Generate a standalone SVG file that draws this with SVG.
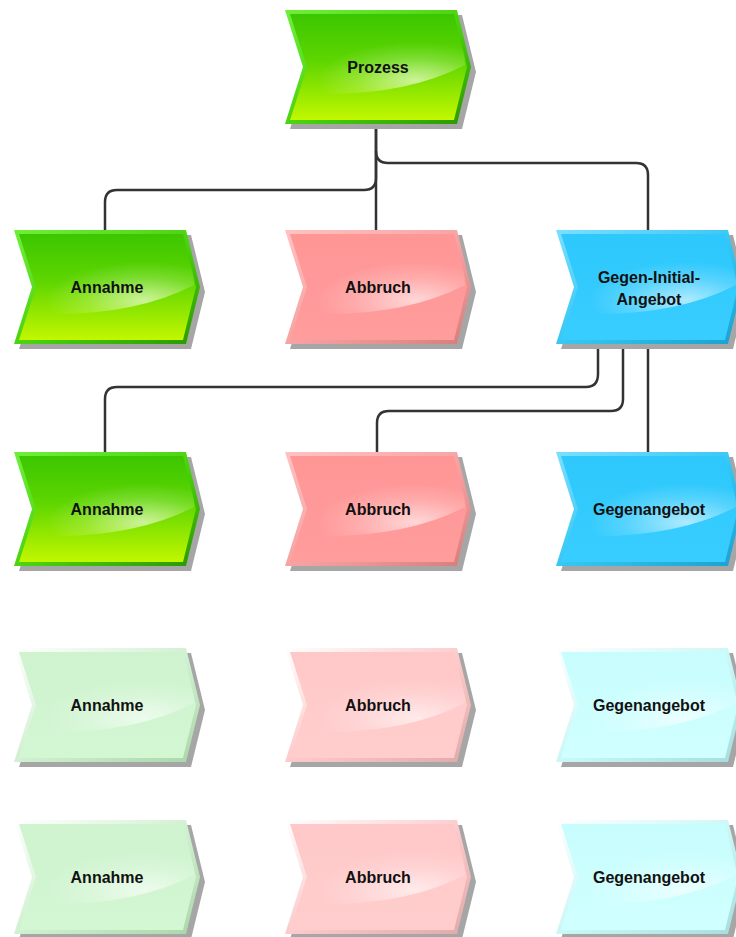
<svg xmlns="http://www.w3.org/2000/svg" xmlns:xlink="http://www.w3.org/1999/xlink" width="736" height="937" viewBox="0 0 736 937">
  <style>
    .shadow { fill: #a6a6a6; }
    .label { font-family: "Liberation Sans", Arial, sans-serif; font-weight: bold; font-size: 16px; fill: #111; text-anchor: middle; }
    .conn { fill: none; stroke: #333; stroke-width: 2.5; }
  </style>
  <defs>
    <!-- event/process chevron, 186 x 114 -->
    <path id="evt-outer" d="M0,0 H172 L186,57 L172,114 H0 L18,57 Z"/>
    <path id="evt-inner" d="M5,4 H169 L182,57 L169,110 H5 L22,57 Z"/>
    <clipPath id="gloss-clip">
      <path d="M20,20 H178 L180,55 Q120,86 30,84 Z"/>
    </clipPath>
    <radialGradient id="gloss-grad" cx="0.68" cy="0.72" r="0.55">
      <stop offset="0" stop-color="#fff" stop-opacity="0.6"/>
      <stop offset="0.6" stop-color="#fff" stop-opacity="0.18"/>
      <stop offset="1" stop-color="#fff" stop-opacity="0"/>
    </radialGradient>
    <g id="evt-gloss" clip-path="url(#gloss-clip)">
      <rect x="10" y="20" width="176" height="70" fill="url(#gloss-grad)"/>
    </g>

    <!-- rims: light top-left, dark bottom-right -->
    <linearGradient id="rim-green" x1="0" y1="0" x2="1" y2="1">
      <stop offset="0" stop-color="#6ef03a"/>
      <stop offset="0.55" stop-color="#49d00e"/>
      <stop offset="1" stop-color="#2a9600"/>
    </linearGradient>
    <linearGradient id="fill-green" x1="0" y1="0" x2="0" y2="1">
      <stop offset="0" stop-color="#3cc600"/>
      <stop offset="0.45" stop-color="#5fd600"/>
      <stop offset="1" stop-color="#c2f700"/>
    </linearGradient>

    <linearGradient id="rim-pink" x1="0" y1="0" x2="1" y2="1">
      <stop offset="0" stop-color="#ffc2c2"/>
      <stop offset="0.55" stop-color="#f5a0a0"/>
      <stop offset="1" stop-color="#d57d7d"/>
    </linearGradient>
    <linearGradient id="fill-pink" x1="0" y1="0" x2="0" y2="1">
      <stop offset="0" stop-color="#ff9696"/>
      <stop offset="1" stop-color="#ff9c9c"/>
    </linearGradient>

    <linearGradient id="rim-blue" x1="0" y1="0" x2="1" y2="1">
      <stop offset="0" stop-color="#7ae0ff"/>
      <stop offset="0.55" stop-color="#33c4f2"/>
      <stop offset="1" stop-color="#1a9fd0"/>
    </linearGradient>
    <linearGradient id="fill-blue" x1="0" y1="0" x2="0" y2="1">
      <stop offset="0" stop-color="#2ec8fc"/>
      <stop offset="1" stop-color="#38cdff"/>
    </linearGradient>

    <linearGradient id="rim-pgreen" x1="0" y1="0" x2="1" y2="1">
      <stop offset="0" stop-color="#ffffff"/>
      <stop offset="0.55" stop-color="#cdeecd"/>
      <stop offset="1" stop-color="#a9d6a9"/>
    </linearGradient>
    <linearGradient id="fill-pgreen" x1="0" y1="0" x2="0" y2="1">
      <stop offset="0" stop-color="#cef3ce"/>
      <stop offset="1" stop-color="#d3f6d3"/>
    </linearGradient>

    <linearGradient id="rim-ppink" x1="0" y1="0" x2="1" y2="1">
      <stop offset="0" stop-color="#ffffff"/>
      <stop offset="0.55" stop-color="#fbc6c6"/>
      <stop offset="1" stop-color="#dfa9a9"/>
    </linearGradient>
    <linearGradient id="fill-ppink" x1="0" y1="0" x2="0" y2="1">
      <stop offset="0" stop-color="#ffc8c8"/>
      <stop offset="1" stop-color="#ffcdcd"/>
    </linearGradient>

    <linearGradient id="rim-pcyan" x1="0" y1="0" x2="1" y2="1">
      <stop offset="0" stop-color="#ffffff"/>
      <stop offset="0.55" stop-color="#c6f6f6"/>
      <stop offset="1" stop-color="#a6dcdc"/>
    </linearGradient>
    <linearGradient id="fill-pcyan" x1="0" y1="0" x2="0" y2="1">
      <stop offset="0" stop-color="#c8fdfd"/>
      <stop offset="1" stop-color="#d0ffff"/>
    </linearGradient>
  </defs>

  <!-- connectors -->
  <g id="connectors">
    <path class="conn" d="M376,125 V178 Q376,190 364,190 H117 Q105,190 105,202 V230"/>
    <path class="conn" d="M376,125 V230"/>
    <path class="conn" d="M376,151 Q376,163 388,163 H636 Q648,163 648,175 V230"/>
    <path class="conn" d="M598,346 V374 Q598,387 586,387 H117 Q105,387 105,399 V452"/>
    <path class="conn" d="M623,346 V399 Q623,411 611,411 H389 Q377,411 377,423 V452"/>
    <path class="conn" d="M648,346 V452"/>
  </g>

  <!-- row 1 -->
  <g id="prozess" transform="translate(285,10)">
    <use href="#evt-outer" class="shadow" transform="translate(5,5)"/>
    <use href="#evt-outer" fill="url(#rim-green)"/>
    <use href="#evt-inner" fill="url(#fill-green)"/>
    <use href="#evt-gloss"/>
    <text class="label" x="93" y="63">Prozess</text>
  </g>

  <!-- row 2 -->
  <g id="annahme-1" transform="translate(14,230)">
    <use href="#evt-outer" class="shadow" transform="translate(5,5)"/>
    <use href="#evt-outer" fill="url(#rim-green)"/>
    <use href="#evt-inner" fill="url(#fill-green)"/>
    <use href="#evt-gloss"/>
    <text class="label" x="93" y="63">Annahme</text>
  </g>
  <g id="abbruch-1" transform="translate(285,230)">
    <use href="#evt-outer" class="shadow" transform="translate(5,5)"/>
    <use href="#evt-outer" fill="url(#rim-pink)"/>
    <use href="#evt-inner" fill="url(#fill-pink)"/>
    <use href="#evt-gloss"/>
    <text class="label" x="93" y="63">Abbruch</text>
  </g>
  <g id="gegen-initial-angebot" transform="translate(556,230)">
    <use href="#evt-outer" class="shadow" transform="translate(5,5)"/>
    <use href="#evt-outer" fill="url(#rim-blue)"/>
    <use href="#evt-inner" fill="url(#fill-blue)"/>
    <use href="#evt-gloss"/>
    <text class="label" x="93" y="53">Gegen-Initial-</text>
    <text class="label" x="93" y="75">Angebot</text>
  </g>

  <!-- row 3 -->
  <g id="annahme-2" transform="translate(14,452)">
    <use href="#evt-outer" class="shadow" transform="translate(5,5)"/>
    <use href="#evt-outer" fill="url(#rim-green)"/>
    <use href="#evt-inner" fill="url(#fill-green)"/>
    <use href="#evt-gloss"/>
    <text class="label" x="93" y="63">Annahme</text>
  </g>
  <g id="abbruch-2" transform="translate(285,452)">
    <use href="#evt-outer" class="shadow" transform="translate(5,5)"/>
    <use href="#evt-outer" fill="url(#rim-pink)"/>
    <use href="#evt-inner" fill="url(#fill-pink)"/>
    <use href="#evt-gloss"/>
    <text class="label" x="93" y="63">Abbruch</text>
  </g>
  <g id="gegenangebot-2" transform="translate(556,452)">
    <use href="#evt-outer" class="shadow" transform="translate(5,5)"/>
    <use href="#evt-outer" fill="url(#rim-blue)"/>
    <use href="#evt-inner" fill="url(#fill-blue)"/>
    <use href="#evt-gloss"/>
    <text class="label" x="93" y="63">Gegenangebot</text>
  </g>

  <!-- row 4 (pale) -->
  <g id="annahme-3" transform="translate(14,648)">
    <use href="#evt-outer" class="shadow" transform="translate(5,5)"/>
    <use href="#evt-outer" fill="url(#rim-pgreen)"/>
    <use href="#evt-inner" fill="url(#fill-pgreen)"/>
    <use href="#evt-gloss"/>
    <text class="label" x="93" y="63">Annahme</text>
  </g>
  <g id="abbruch-3" transform="translate(285,648)">
    <use href="#evt-outer" class="shadow" transform="translate(5,5)"/>
    <use href="#evt-outer" fill="url(#rim-ppink)"/>
    <use href="#evt-inner" fill="url(#fill-ppink)"/>
    <use href="#evt-gloss"/>
    <text class="label" x="93" y="63">Abbruch</text>
  </g>
  <g id="gegenangebot-3" transform="translate(556,648)">
    <use href="#evt-outer" class="shadow" transform="translate(5,5)"/>
    <use href="#evt-outer" fill="url(#rim-pcyan)"/>
    <use href="#evt-inner" fill="url(#fill-pcyan)"/>
    <use href="#evt-gloss"/>
    <text class="label" x="93" y="63">Gegenangebot</text>
  </g>

  <!-- row 5 (pale) -->
  <g id="annahme-4" transform="translate(14,820)">
    <use href="#evt-outer" class="shadow" transform="translate(5,5)"/>
    <use href="#evt-outer" fill="url(#rim-pgreen)"/>
    <use href="#evt-inner" fill="url(#fill-pgreen)"/>
    <use href="#evt-gloss"/>
    <text class="label" x="93" y="63">Annahme</text>
  </g>
  <g id="abbruch-4" transform="translate(285,820)">
    <use href="#evt-outer" class="shadow" transform="translate(5,5)"/>
    <use href="#evt-outer" fill="url(#rim-ppink)"/>
    <use href="#evt-inner" fill="url(#fill-ppink)"/>
    <use href="#evt-gloss"/>
    <text class="label" x="93" y="63">Abbruch</text>
  </g>
  <g id="gegenangebot-4" transform="translate(556,820)">
    <use href="#evt-outer" class="shadow" transform="translate(5,5)"/>
    <use href="#evt-outer" fill="url(#rim-pcyan)"/>
    <use href="#evt-inner" fill="url(#fill-pcyan)"/>
    <use href="#evt-gloss"/>
    <text class="label" x="93" y="63">Gegenangebot</text>
  </g>
</svg>
